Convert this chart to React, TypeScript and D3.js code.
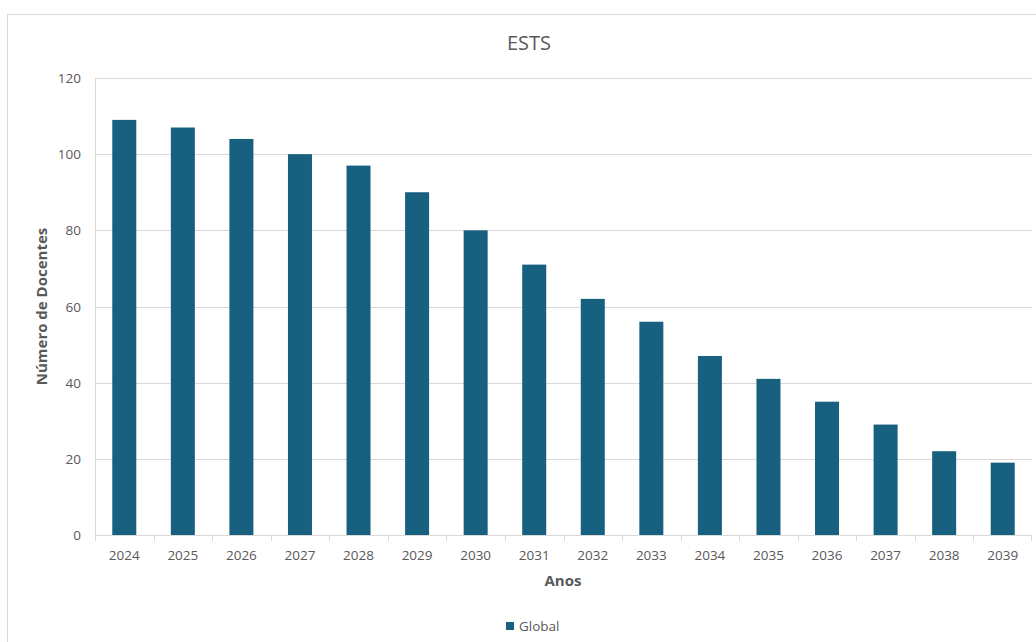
import React from "react";
import * as d3 from "d3";

const years = ["2024","2025","2026","2027","2028","2029","2030","2031","2032","2033","2034","2035","2036","2037","2038","2039"];
const globalValues = [109,107,104,100,97,90,80,71,62,56,47,41,35,29,22,19];
const yTicks = [0,20,40,60,80,100,120];

const W = 1036, H = 642;
const M = { left: 95, right: 1032, top: 78, bottom: 535 };
const FONT = "'Open Sans', 'Liberation Sans', sans-serif";

export default function App() {
  const x = d3.scaleBand<string>().domain(years).range([M.left, M.right]).paddingInner(0.59).paddingOuter(0.295);
  const xb = d3.scaleBand<string>().domain(years).range([M.left, M.right]);
  const y = d3.scaleLinear().domain([0, 120]).range([M.bottom, M.top]);
  const color = "#17607f";
  const grid = "#d9d9d9";
  const txt = "#595959";
  return (
    <div style={{ position: "absolute", left: 0, top: 0 }}>
      <svg width={W} height={H} style={{ display: "block", background: "#fff" }}>
        <rect x={7.5} y={14.5} width={W + 10} height={H + 10} fill="#fff" stroke="#d9d9d9" strokeWidth={1} />
        <text x={529} y={50} textAnchor="middle" fontFamily={FONT} fontSize={20} fill={txt}>ESTS</text>
        {yTicks.map(t => (
          <g key={t}>
            <line x1={M.left} x2={M.right} y1={Math.round(y(t)) + 0.5} y2={Math.round(y(t)) + 0.5} stroke={grid} strokeWidth={1} />
            <text x={81} y={y(t) + 5} textAnchor="end" fontFamily={FONT} fontSize={13.5} fill={txt}>{t}</text>
          </g>
        ))}
        <line x1={M.left + 0.5} x2={M.left + 0.5} y1={M.top} y2={M.bottom} stroke={grid} />
        {years.map((yr, i) => (
          <rect key={yr} x={x(yr)} y={y(globalValues[i])} width={x.bandwidth()} height={y(0) - y(globalValues[i])} fill={color} />
        ))}
        {years.map(yr => (
          <line key={"t" + yr} x1={Math.round(xb(yr)!) + 0.5} x2={Math.round(xb(yr)!) + 0.5} y1={M.bottom} y2={M.bottom + 6} stroke={grid} />
        ))}
        <line x1={M.right - 0.5} x2={M.right - 0.5} y1={M.bottom} y2={M.bottom + 6} stroke={grid} />
        {years.map(yr => (
          <text key={"l" + yr} x={xb(yr)! + xb.bandwidth() / 2} y={560} textAnchor="middle" fontFamily={FONT} fontSize={13.5} fill={txt}>{yr}</text>
        ))}
        <text x={563} y={586} textAnchor="middle" fontFamily={FONT} fontSize={15} fontWeight="bold" fill={txt}>Anos</text>
        <text transform={`translate(47,${(M.top + M.bottom) / 2}) rotate(-90)`} textAnchor="middle" fontFamily={FONT} fontSize={15} fontWeight="bold" fill={txt}>Número de Docentes</text>
        <rect x={506} y={622} width={8} height={8} fill={color} />
        <text x={519} y={630.5} fontFamily={FONT} fontSize={13.5} fill={txt}>Global</text>
      </svg>
    </div>
  );
}
